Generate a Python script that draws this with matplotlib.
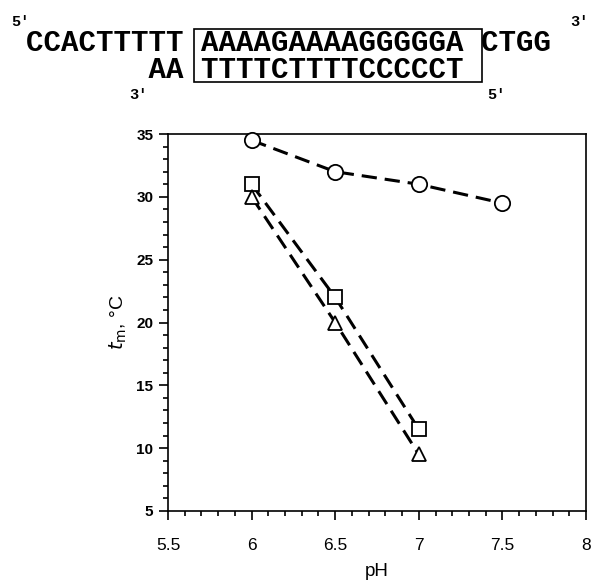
import matplotlib.pyplot as plt
from matplotlib.patches import Rectangle
from matplotlib.ticker import MultipleLocator

plt.rcParams['font.family'] = ['Liberation Sans', 'DejaVu Sans']

# data
ph_circle = [6.0, 6.5, 7.0, 7.5]
tm_circle = [34.5, 32.0, 31.0, 29.5]
ph_square = [6.0, 6.5, 7.0]
tm_square = [31.0, 22.0, 11.5]
ph_triangle = [6.0, 6.5, 7.0]
tm_triangle = [30.0, 20.0, 9.5]

x_ticks = [5.5, 6, 6.5, 7, 7.5, 8]
x_ticklabels = ['5.5', '6', '6.5', '7', '7.5', '8']
y_ticks = [5, 10, 15, 20, 25, 30, 35]

top_strand = 'CCACTTTTT AAAAGAAAAGGGGGA CTGG'
bottom_strand = '       AA TTTTCTTTTCCCCCT'

W, H = 591, 580
fig = plt.figure(figsize=(W / 100, H / 100), dpi=100)
ax = fig.add_axes([168 / W, 1 - 511 / H, 418 / W, 377 / H])

dash = (0, (5, 2.6))
mk = dict(mfc='white', mec='black', mew=1.3, clip_on=False, zorder=3)
ax.plot(ph_circle, tm_circle, color='black', lw=2.2, ls=dash, zorder=2, clip_on=False)
ax.plot(ph_circle, tm_circle, ls='none', marker='o', ms=11, **mk)
ax.plot(ph_square, tm_square, color='black', lw=2.2, ls=dash, zorder=2)
ax.plot(ph_square, tm_square, ls='none', marker='s', ms=10.5, **mk)
ax.plot(ph_triangle, tm_triangle, color='black', lw=2.2, ls=dash, zorder=2)
ax.plot(ph_triangle, tm_triangle, ls='none', marker='^', ms=10.5, **mk)

ax.set_xlim(5.5, 8)
ax.set_ylim(5, 35)
ax.set_xticks(x_ticks)
ax.set_xticklabels(x_ticklabels)
ax.set_yticks(y_ticks)
ax.xaxis.set_minor_locator(MultipleLocator(0.1))
ax.yaxis.set_minor_locator(MultipleLocator(1))
ax.tick_params(which='major', direction='out', length=6.5, width=1.2)
ax.tick_params(which='minor', direction='out', length=3.5, width=1.2)
ax.tick_params(axis='x', which='major', pad=13, labelsize=12.5)
ax.tick_params(axis='y', which='major', pad=4, labelsize=11)
for lab in ax.get_yticklabels():
    lab.set_fontweight('bold')
for sp in ax.spines.values():
    sp.set_linewidth(1.2)

ax.set_xlabel('pH', fontsize=13.5, labelpad=7)
ax.set_ylabel(r'$t_{\mathrm{m}}$, °C', fontsize=14, labelpad=5)

# sequence header
mono = dict(family='Liberation Mono', weight='bold', transform=fig.transFigure)
fs = 21
cell = fs / 72 * 100 * 0.6
x0 = 26
fig.text(x0 / W, 1 - 43 / H, top_strand, fontsize=fs, ha='left', va='center', **mono)
fig.text(x0 / W, 1 - 70 / H, bottom_strand, fontsize=fs, ha='left', va='center', **mono)
bx0 = x0 + 9.6 * cell
bx1 = x0 + 26.05 * cell
fig.patches.append(Rectangle((bx0 / W, 1 - 82 / H), (bx1 - bx0) / W, 53 / H,
                             transform=fig.transFigure, fill=False, lw=1.2,
                             edgecolor='black'))
fig.text(20 / W, 1 - 22 / H, "5'", fontsize=11, ha='center', va='center', **mono)
fig.text(579 / W, 1 - 22 / H, "3'", fontsize=11, ha='center', va='center', **mono)
fig.text(138 / W, 1 - 95 / H, "3'", fontsize=11, ha='center', va='center', **mono)
fig.text(496 / W, 1 - 95 / H, "5'", fontsize=11, ha='center', va='center', **mono)

fig.savefig('out.png', dpi=100)
